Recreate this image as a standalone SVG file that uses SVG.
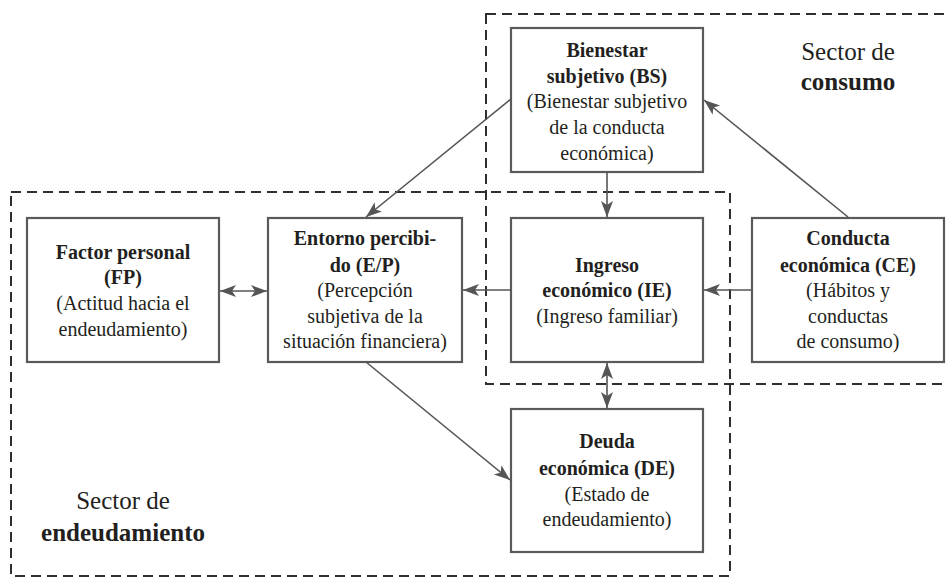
<svg xmlns="http://www.w3.org/2000/svg" width="946" height="578" viewBox="0 0 946 578">
<style>
  .bg{fill:#ffffff}
  .node rect{fill:#ffffff;stroke:#5a5a5a;stroke-width:2.2}
  .sector{fill:none;stroke:#2e2e2e;stroke-width:2;stroke-dasharray:10 6}
  .t{font-size:20px}
  .b{font-weight:bold}
  .sec{font-size:25px}
  .conn line{stroke:#555555;stroke-width:1.6;fill:none}
</style>
<defs>
  <marker id="ah" markerUnits="userSpaceOnUse" markerWidth="18" markerHeight="14" refX="16" refY="6" orient="auto-start-reverse">
    <path d="M0,0 L16,6 L0,12 L4,6 z" fill="#555555"/>
  </marker>
</defs>
<rect class="bg" x="0" y="0" width="946" height="578"/>

<g id="sectors">
  <rect class="sector" x="486" y="14" width="475" height="370"/>
  <rect class="sector" x="11" y="192" width="719" height="384"/>
</g>
<g id="sector-labels" font-family="Liberation Serif, DejaVu Serif, serif" fill="#231f20" text-anchor="middle">
  <text class="sec" x="848" y="60">Sector de</text>
  <text class="sec b" x="848" y="90">consumo</text>
  <text class="sec" x="123" y="509">Sector de</text>
  <text class="sec b" x="123" y="541">endeudamiento</text>
</g>

<g id="node-BS" class="node" font-family="Liberation Serif, DejaVu Serif, serif" fill="#231f20" text-anchor="middle">
  <rect x="511" y="28" width="192" height="144"/>
  <text class="t b" x="607" y="57">Bienestar</text>
  <text class="t b" x="607" y="83">subjetivo (BS)</text>
  <text class="t" x="607" y="108">(Bienestar subjetivo</text>
  <text class="t" x="607" y="134">de la conducta</text>
  <text class="t" x="607" y="160">económica)</text>
</g>

<g id="node-FP" class="node" font-family="Liberation Serif, DejaVu Serif, serif" fill="#231f20" text-anchor="middle">
  <rect x="27" y="218" width="192" height="144"/>
  <text class="t b" x="123" y="259">Factor personal</text>
  <text class="t b" x="123" y="284">(FP)</text>
  <text class="t" x="123" y="310">(Actitud hacia el</text>
  <text class="t" x="123" y="336">endeudamiento)</text>
</g>

<g id="node-EP" class="node" font-family="Liberation Serif, DejaVu Serif, serif" fill="#231f20" text-anchor="middle">
  <rect x="268" y="218" width="194" height="144"/>
  <text class="t b" x="365" y="245">Entorno percibi-</text>
  <text class="t b" x="365" y="272">do (E/P)</text>
  <text class="t" x="365" y="297">(Percepción</text>
  <text class="t" x="365" y="323">subjetiva de la</text>
  <text class="t" x="365" y="348">situación financiera)</text>
</g>

<g id="node-IE" class="node" font-family="Liberation Serif, DejaVu Serif, serif" fill="#231f20" text-anchor="middle">
  <rect x="511" y="218" width="192" height="144"/>
  <text class="t b" x="607" y="272">Ingreso</text>
  <text class="t b" x="607" y="297">económico (IE)</text>
  <text class="t" x="607" y="323">(Ingreso familiar)</text>
</g>

<g id="node-CE" class="node" font-family="Liberation Serif, DejaVu Serif, serif" fill="#231f20" text-anchor="middle">
  <rect x="752" y="218" width="192" height="144"/>
  <text class="t b" x="848" y="245">Conducta</text>
  <text class="t b" x="848" y="272">económica (CE)</text>
  <text class="t" x="848" y="297">(Hábitos y</text>
  <text class="t" x="848" y="323">conductas</text>
  <text class="t" x="848" y="348">de consumo)</text>
</g>

<g id="node-DE" class="node" font-family="Liberation Serif, DejaVu Serif, serif" fill="#231f20" text-anchor="middle">
  <rect x="511" y="409" width="192" height="143"/>
  <text class="t b" x="607" y="448">Deuda</text>
  <text class="t b" x="607" y="475">económica (DE)</text>
  <text class="t" x="607" y="501">(Estado de</text>
  <text class="t" x="607" y="526">endeudamiento)</text>
</g>

<g id="connectors" class="conn">
  <line x1="511" y1="99" x2="366" y2="217" marker-end="url(#ah)"/>
  <line x1="607" y1="172" x2="607" y2="217" marker-end="url(#ah)"/>
  <line x1="848" y1="217" x2="704" y2="100" marker-end="url(#ah)"/>
  <line x1="752" y1="290" x2="704" y2="290" marker-end="url(#ah)"/>
  <line x1="511" y1="290" x2="463" y2="290" marker-end="url(#ah)"/>
  <line x1="220" y1="291" x2="267" y2="291" marker-start="url(#ah)" marker-end="url(#ah)"/>
  <line x1="607" y1="363" x2="607" y2="408" marker-start="url(#ah)" marker-end="url(#ah)"/>
  <line x1="366" y1="362" x2="510" y2="480" marker-end="url(#ah)"/>
</g>
</svg>
